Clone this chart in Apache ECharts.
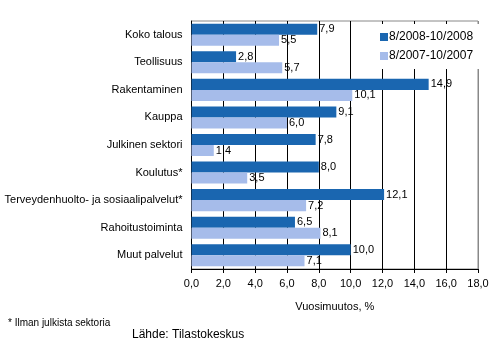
<!DOCTYPE html>
<html><head><meta charset="utf-8">
<script src="https://cdn.jsdelivr.net/npm/echarts@6/dist/echarts.min.js"></script>
<style>html,body{margin:0;padding:0;background:#fff}#c{width:495px;height:361px}</style>
</head><body><div id="c"></div>
<script>
const categories = ["Koko talous","Teollisuus","Rakentaminen","Kauppa","Julkinen sektori","Koulutus*","Terveydenhuolto- ja sosiaalipalvelut*","Rahoitustoiminta","Muut palvelut"];
const seriesNames = ["8/2008-10/2008","8/2007-10/2007"];
const values2008 = [7.9, 2.8, 14.9, 9.1, 7.8, 8.0, 12.1, 6.5, 10.0];
const values2007 = [5.5, 5.7, 10.1, 6.0, 1.4, 3.5, 7.2, 8.1, 7.1];
const axisName = "Vuosimuutos, %";
const footnote = "* Ilman julkista sektoria";
const source = "Lähde: Tilastokeskus";

const font = "Liberation Sans, Arial, sans-serif";
const fmt = v => v.toFixed(1).replace('.', ',');
const chart = echarts.init(document.getElementById('c'));
const lbl = {show:true, position:'right', distance:2, color:'#000', fontFamily:font, fontSize:11,
  formatter:p=>fmt(p.value)};
chart.setOption({
  animation:false,
  grid:{left:191.5, right:17, top:21, bottom:92, show:true, borderColor:'#888', borderWidth:1},
  legend:{orient:'vertical', left:376, top:24, padding:[7,12,7,4], itemGap:7, itemWidth:8, itemHeight:8,
    backgroundColor:'#fff', icon:'rect', textStyle:{fontFamily:font, fontSize:12, color:'#000', padding:[0,0,0,-4]},
    data:seriesNames},
  xAxis:{type:'value', min:0, max:18, interval:2,
    name:axisName, nameLocation:'middle', nameGap:32,
    nameTextStyle:{fontFamily:font, fontSize:11, color:'#000'},
    axisLine:{show:true, lineStyle:{color:'#000'}},
    axisTick:{show:true, length:4, lineStyle:{color:'#000'}},
    axisLabel:{fontFamily:font, fontSize:11, color:'#000', margin:9, formatter:v=>fmt(v)},
    splitLine:{show:true, lineStyle:{color:['#000','#000','#000','#000','#000','#000','#000','#000','#000','#888']}}},
  yAxis:{type:'category', data:categories, inverse:true,
    axisLine:{show:true, lineStyle:{color:'#000'}}, axisTick:{show:false},
    axisLabel:{fontFamily:font, fontSize:11, color:'#000', margin:9}},
  series:[
    {name:seriesNames[0], type:'bar', data:values2008, barGap:'0%', barCategoryGap:'20%',
      itemStyle:{color:'#1a66b0'}, label:lbl},
    {name:seriesNames[1], type:'bar', data:values2007, barGap:'0%', barCategoryGap:'20%',
      itemStyle:{color:'#a6bcea'}, label:lbl}
  ],
  graphic:[
    {type:'text', left:8, top:318, style:{text:footnote, fontFamily:font, fontSize:10, fill:'#000'}},
    {type:'text', left:132, top:329, style:{text:source, fontFamily:font, fontSize:12, fill:'#000'}}
  ]
});
</script></body></html>
